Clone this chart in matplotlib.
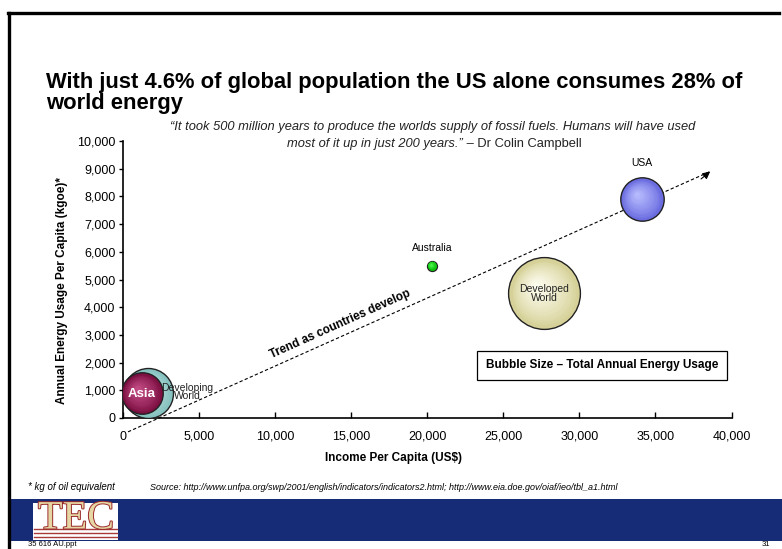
import numpy as np
import matplotlib.pyplot as plt
import matplotlib.patheffects as pe
from matplotlib.transforms import ScaledTranslation
from matplotlib.colors import to_rgb
from matplotlib.patches import Rectangle
from matplotlib.lines import Line2D

plt.rcParams['font.family'] = ['Liberation Sans', 'DejaVu Sans']

# Bubble data: income per capita (US$), energy use per capita (kgoe), total annual energy
regions = ["Developing World", "Asia", "Australia", "Developed World", "USA"]
income = [1650, 1250, 20300, 27700, 34100]
energy_pc = [900, 890, 5500, 4500, 7900]
energy_total = [3050, 2100, 120, 6300, 2300]

# colours: (rim, highlight)
bubble_cols = {
    "Developing World": ("#86c2c0", "#d2ece8"),
    "Asia": ("#7c1042", "#c8508a"),
    "Australia": ("#00b400", "#50ff50"),
    "Developed World": ("#d6d198", "#fffff4"),
    "USA": ("#6a6ce0", "#bcc0ff"),
}

xticks = [0, 5000, 10000, 15000, 20000, 25000, 30000, 35000, 40000]
yticks = list(range(0, 10001, 1000))

# trend arrow end points in data units
trend_start = (330, -500)
trend_end = (38600, 8900)

W, H = 782, 549
fig = plt.figure(figsize=(W / 100, H / 100), dpi=100)

def fx(px):
    return px / W

def fy(py):
    return 1 - py / H

# slide frame and footer band
fig.add_artist(Line2D([fx(9), fx(9)], [fy(549), fy(13)], color="black", lw=2.4))
fig.add_artist(Line2D([fx(8), fx(779)], [fy(13), fy(13)], color="black", lw=2.4))
fig.add_artist(Rectangle((fx(11), fy(541)), fx(782) - fx(11), (541 - 499) / H,
                         color="#172c76", lw=0))

# TEC logo
fig.add_artist(Rectangle((fx(33), fy(540)), (118 - 33) / W, (540 - 503) / H,
                         color="white", lw=0))
for yy in [529, 533, 537]:
    fig.add_artist(Line2D([fx(34), fx(117)], [fy(yy), fy(yy)], color="#a83a3a", lw=1.0))
fig.text(fx(76), fy(519), "TEC", ha="center", va="center", fontsize=29,
         family="Liberation Serif", color="#e6d6a4",
         path_effects=[pe.withStroke(linewidth=1.4, foreground="#9a2a2a")])

ax = fig.add_axes([fx(123), fy(418), (731.5 - 123) / W, (418 - 141) / H])
ax.set_xlim(0, 40000)
ax.set_ylim(0, 10000)
for s in ["top", "right"]:
    ax.spines[s].set_visible(False)
for s in ["left", "bottom"]:
    ax.spines[s].set_linewidth(1.2)
ax.set_xticks(xticks)
ax.set_yticks(yticks)
ax.set_xticklabels([f"{v:,}" for v in xticks])
ax.set_yticklabels([f"{v:,}" for v in yticks])
ax.tick_params(axis="x", direction="in", length=4, width=1, labelsize=9, pad=9)
ax.tick_params(axis="y", direction="out", length=3, width=1, labelsize=9, pad=2.5)

# shaded bubbles: stacked discs fading from rim colour to highlight
k = 0.4525 * 0.72  # points of radius per sqrt(energy)
for name, x, y, e in zip(regions, income, energy_pc, energy_total):
    rim, hi = bubble_cols[name]
    rim, hi = np.array(to_rgb(rim)), np.array(to_rgb(hi))
    r = np.sqrt(e) * k
    ax.scatter([x], [y], s=(2 * r) ** 2, color=rim, edgecolor="#222222",
               linewidth=1.0, zorder=3)
    n = 18
    for i in range(1, n):
        f = i / n
        rr = r * (1 - f) * 0.93
        off = ScaledTranslation(-0.25 * r * f / 72, 0.25 * r * f / 72, fig.dpi_scale_trans)
        c = rim + (hi - rim) * f ** 0.8
        ax.scatter([x], [y], s=(2 * rr) ** 2, color=c, linewidth=0,
                   transform=ax.transData + off, zorder=3)

# trend arrow
ax.plot([trend_start[0], trend_end[0]], [trend_start[1], trend_end[1]],
        ls=(0, (3, 2)), lw=0.8, color="black", clip_on=False, zorder=2)
ax.annotate("", xy=trend_end, xytext=(trend_end[0] - 600, trend_end[1] - 270),
            arrowprops=dict(arrowstyle="-|>", color="black", lw=0.8,
                            mutation_scale=11, shrinkA=0, shrinkB=0),
            annotation_clip=False)
ax.text(14300, 3400, "Trend as countries develop", rotation=24.2, ha="center",
        va="center", fontsize=8.5, weight="bold", rotation_mode="anchor")

# bubble labels
ax.text(1250, 860, "Asia", color="white", weight="bold", fontsize=9.5,
        ha="center", va="center", zorder=5)
ax.text(4200, 940, "Developing\nWorld", fontsize=7.5, ha="center", va="center",
        linespacing=0.85, color="#222222", zorder=5)
ax.text(27700, 4500, "Developed\nWorld", fontsize=7.5, ha="center", va="center",
        linespacing=0.85, color="#222222", zorder=5)
ax.text(20300, 6150, "Australia", fontsize=7.5, ha="center", va="center")
ax.text(34100, 9200, "USA", fontsize=7.5, ha="center", va="center")

ax.text(0.787, 0.19, "Bubble Size \u2013 Total Annual Energy Usage",
        transform=ax.transAxes, ha="center", va="center", fontsize=8.5,
        weight="bold",
        bbox=dict(boxstyle="square,pad=0.75", fc="white", ec="black", lw=0.9))

fig.text(fx(393), fy(458), "Income Per Capita (US$)", ha="center", va="center",
         fontsize=8.5, weight="bold")
fig.text(fx(62), fy(290), "Annual Energy Usage Per Capita (kgoe)*", ha="center",
         va="center", rotation=90, fontsize=8.5, weight="bold")

# heading and quote
fig.text(fx(46), fy(72), "With just 4.6% of global population the US alone consumes 28% of\nworld energy",
         ha="left", va="top", fontsize=15.8, weight="bold", linespacing=1.0)
fig.text(fx(433), fy(127), "\u201cIt took 500 million years to produce the worlds supply of fossil fuels. Humans will have used",
         ha="center", va="center", fontsize=9.3, style="italic", color="#222222")
fig.text(fx(463), fy(143.5), "most of it up in just 200 years.\u201d", ha="right",
         va="center", fontsize=9.3, style="italic", color="#222222")
fig.text(fx(463), fy(143.5), " \u2013 Dr Colin Campbell", ha="left", va="center",
         fontsize=9.3, color="#222222")

# footnotes
fig.text(fx(28), fy(487), "* kg of oil equivalent", fontsize=7, style="italic",
         va="center")
fig.text(fx(150), fy(487),
         "Source: http://www.unfpa.org/swp/2001/english/indicators/indicators2.html; http://www.eia.doe.gov/oiaf/ieo/tbl_a1.html",
         fontsize=6.5, style="italic", va="center")
fig.text(fx(28), fy(545), "35 616 AU.ppt", fontsize=5.5, va="center")
fig.text(fx(762), fy(545), "31", fontsize=5.5, va="center")

fig.savefig("out.png", dpi=100)
